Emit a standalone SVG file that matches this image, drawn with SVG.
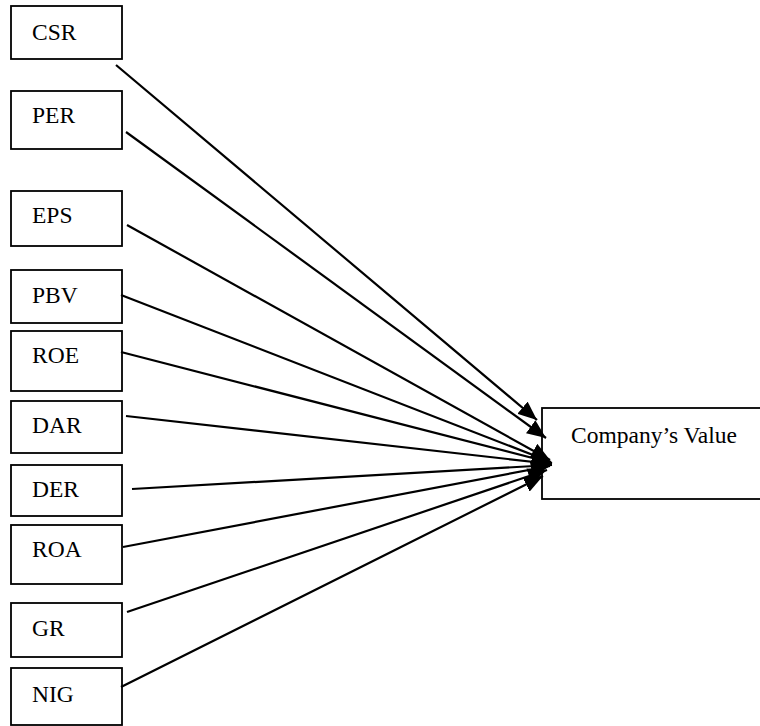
<svg xmlns="http://www.w3.org/2000/svg" width="760" height="726" viewBox="0 0 760 726">
<style>
.box{fill:#fff;stroke:#000;stroke-width:1.8}
text{font-family:'Liberation Serif','Times New Roman','DejaVu Serif',serif;font-size:23.5px;fill:#000}
.c{stroke:#000;stroke-width:2.2;fill:none;marker-end:url(#ah)}
</style>
<defs>
<marker id="ah" markerUnits="userSpaceOnUse" markerWidth="22" markerHeight="16" refX="19" refY="8" orient="auto">
<path d="M0,0 L19,8 L0,16 z" fill="#000"/>
</marker>
</defs>
<rect width="760" height="726" fill="#fff"/>
<g id="csr"><rect class="box" x="11" y="6" width="111" height="53"/><text x="32" y="40">CSR</text></g>
<g id="per"><rect class="box" x="11" y="91" width="111" height="58"/><text x="32" y="123">PER</text></g>
<g id="eps"><rect class="box" x="11" y="191" width="111" height="55"/><text x="32" y="223">EPS</text></g>
<g id="pbv"><rect class="box" x="11" y="270" width="111" height="53"/><text x="32" y="303">PBV</text></g>
<g id="roe"><rect class="box" x="11" y="331" width="111" height="60"/><text x="32" y="363">ROE</text></g>
<g id="dar"><rect class="box" x="11" y="401" width="111" height="52"/><text x="32" y="433">DAR</text></g>
<g id="der"><rect class="box" x="11" y="465" width="111" height="51"/><text x="32" y="497">DER</text></g>
<g id="roa"><rect class="box" x="11" y="525" width="111" height="59"/><text x="32" y="557">ROA</text></g>
<g id="gr"><rect class="box" x="11" y="603" width="111" height="54"/><text x="32" y="636">GR</text></g>
<g id="nig"><rect class="box" x="11" y="668" width="111" height="57"/><text x="32" y="702">NIG</text></g>
<g id="value"><rect class="box" x="542" y="408" width="240" height="91"/><text x="571" y="443">Company’s Value</text></g>
<g id="connectors">
<line class="c" x1="116" y1="65" x2="537" y2="420"/>
<line class="c" x1="126" y1="132" x2="546" y2="438"/>
<line class="c" x1="127" y1="225" x2="550" y2="460"/>
<line class="c" x1="121" y1="295" x2="551" y2="462"/>
<line class="c" x1="121" y1="352" x2="552" y2="463"/>
<line class="c" x1="126" y1="416" x2="552" y2="464"/>
<line class="c" x1="132" y1="489" x2="552" y2="465"/>
<line class="c" x1="123" y1="547" x2="550" y2="466"/>
<line class="c" x1="127" y1="612" x2="547" y2="470"/>
<line class="c" x1="121" y1="687" x2="543" y2="476"/>
</g>
</svg>
